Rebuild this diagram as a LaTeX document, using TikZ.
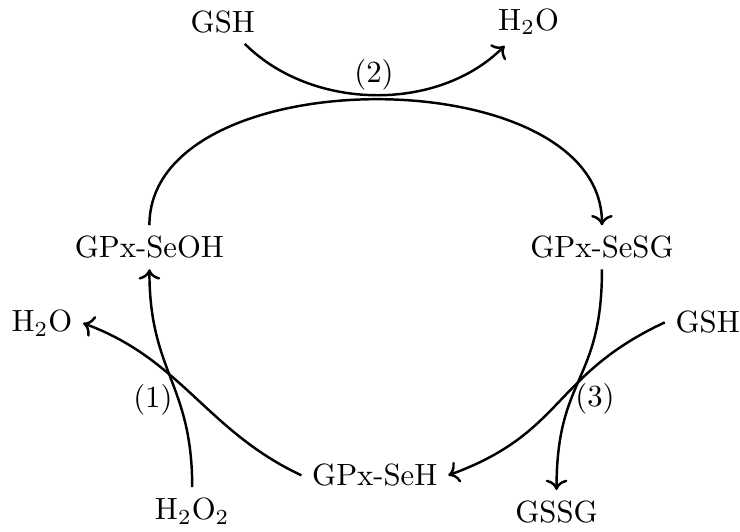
\documentclass[tikz,border=0pt]{standalone}
\usepackage{amsmath}
\usepackage{tikz}
\usetikzlibrary{arrows,arrows.meta,calc,positioning}

\tikzset{
  rxn/.style={->, thick},
  step label/.style={font=\normalsize}
}

\begin{document}
\begin{tikzpicture}
\useasboundingbox (0,0) rectangle (8.47,6.08);

% Enzyme states
\node (seoh) at (1.71,3.25) {GPx-SeOH};
\node (sesg) at (6.89,3.25) {GPx-SeSG};
\node (seh)  at (4.29,0.64) {GPx-SeH};

% Substrates and products
\node (gsh1) at (2.55,5.83) {GSH};
\node (wat1) at (6.05,5.83) {H$_2$O};
\node (wat2) at (0.48,2.38) {H$_2$O};
\node (gsh2) at (8.10,2.39) {GSH};
\node (h2o2) at (2.20,0.23) {H$_2$O$_2$};
\node (gssg) at (6.37,0.22) {GSSG};

% Step numbers
\node[step label] (st2) at (4.28,5.22) {(2)};
\node[step label] (st1) at (1.75,1.50) {(1)};
\node[step label] (st3) at (6.81,1.52) {(3)};

% Step (2), top
\draw[rxn] (seoh) to[out=90,in=90,looseness=0.95] (sesg);
\draw[rxn] (gsh1) to[out=-45,in=-135,looseness=0.93] (wat1);

% Step (3), right
\draw[rxn] (sesg) to[out=-90,in=90,looseness=1.3] (gssg);
\draw[rxn] (gsh2.west) to[out=205,in=20,looseness=1.2] (seh.east);

% Step (1), left
\draw[rxn] (h2o2) to[out=90,in=-90,looseness=1.2] (seoh);
\draw[rxn] (seh.west) to[out=155,in=-20] (wat2.east);
\end{tikzpicture}
\end{document}
